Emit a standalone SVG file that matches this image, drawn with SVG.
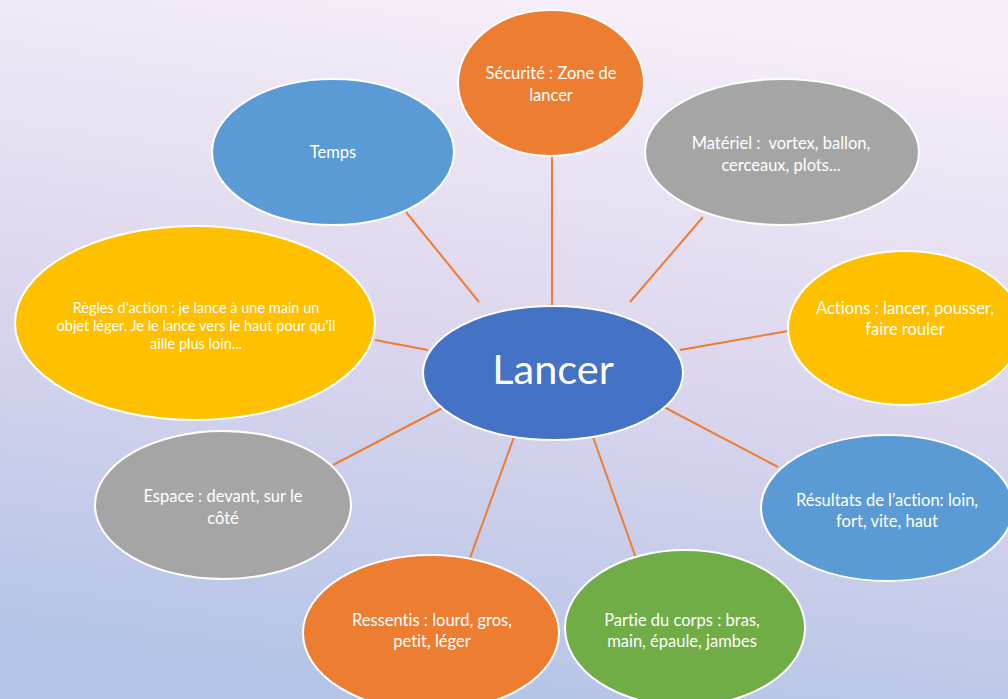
<svg xmlns="http://www.w3.org/2000/svg" width="1008" height="699" viewBox="0 0 1008 699">
<defs>
<linearGradient id="bg" x1="0.6" y1="0" x2="0.4" y2="1">
<stop offset="0" stop-color="#F6EEF8"/>
<stop offset="0.5" stop-color="#DCD6EE"/>
<stop offset="1" stop-color="#B3C4E6"/>
</linearGradient>
<style>
.n{stroke:#FFFFFF;stroke-width:2}
.t{font-family:Lato,"Open Sans",sans-serif;font-size:16.5px;fill:#FFFFFF;text-anchor:middle;font-variant-ligatures:none;white-space:pre}
.s{font-size:14.5px}
.c line{stroke:#ED7D31;stroke-width:2}
</style>
</defs>
<rect width="1008" height="699" fill="url(#bg)"/>
<g class="c" id="connectors">
<line x1="552" y1="157" x2="552" y2="306"/>
<line x1="703" y1="217" x2="630" y2="302"/>
<line x1="406" y1="212" x2="479" y2="302"/>
<line x1="680" y1="350" x2="788" y2="331"/>
<line x1="660" y1="405" x2="778" y2="467"/>
<line x1="593" y1="437" x2="636" y2="558"/>
<line x1="514" y1="437" x2="470" y2="558"/>
<line x1="450" y1="404" x2="333" y2="465"/>
<line x1="375" y1="340" x2="428" y2="350"/>
</g>
<g id="securite">
<ellipse class="n" cx="551" cy="83" rx="93" ry="73" fill="#ED7D31"/>
<text class="t" x="551" y="79">Sécurité : Zone de</text>
<text class="t" x="551" y="101">lancer</text>
</g>
<g id="materiel">
<ellipse class="n" cx="782" cy="152" rx="137" ry="73" fill="#A5A5A5"/>
<text class="t" x="781" y="149">Matériel :  vortex, ballon,</text>
<text class="t" x="781" y="171">cerceaux, plots...</text>
</g>
<g id="temps">
<ellipse class="n" cx="333" cy="152" rx="121" ry="73" fill="#5B9BD5"/>
<text class="t" x="333" y="158">Temps</text>
</g>
<g id="regles">
<ellipse class="n" cx="195" cy="323" rx="180" ry="97" fill="#FFC000"/>
<text class="t s" x="196" y="313">Règles d'action : je lance à une main un</text>
<text class="t s" x="196" y="331">objet léger. Je le lance vers le haut pour qu'il</text>
<text class="t s" x="196" y="349">aille plus loin...</text>
</g>
<g id="actions">
<ellipse class="n" cx="905" cy="328" rx="117" ry="77" fill="#FFC000"/>
<text class="t" x="905" y="314">Actions : lancer, pousser,</text>
<text class="t" x="905" y="335">faire rouler</text>
</g>
<g id="resultats">
<ellipse class="n" cx="887" cy="508" rx="126" ry="73" fill="#5B9BD5"/>
<text class="t" x="887" y="506">Résultats de l’action: loin,</text>
<text class="t" x="887" y="527">fort, vite, haut</text>
</g>
<g id="partie">
<ellipse class="n" cx="685" cy="628" rx="120" ry="78" fill="#70AD47"/>
<text class="t" x="682" y="626">Partie du corps : bras,</text>
<text class="t" x="682" y="647">main, épaule, jambes</text>
</g>
<g id="ressentis">
<ellipse class="n" cx="431" cy="633" rx="128" ry="78" fill="#ED7D31"/>
<text class="t" x="432" y="626">Ressentis : lourd, gros,</text>
<text class="t" x="432" y="647">petit, léger</text>
</g>
<g id="espace">
<ellipse class="n" cx="223" cy="505" rx="128" ry="74" fill="#A5A5A5"/>
<text class="t" x="223" y="502">Espace : devant, sur le</text>
<text class="t" x="223" y="524">côté</text>
</g>
<g id="lancer">
<ellipse class="n" cx="553" cy="373" rx="130" ry="67" fill="#4472C4"/>
<text class="t" x="553" y="384" style="font-size:41.5px">Lancer</text>
</g>
</svg>
